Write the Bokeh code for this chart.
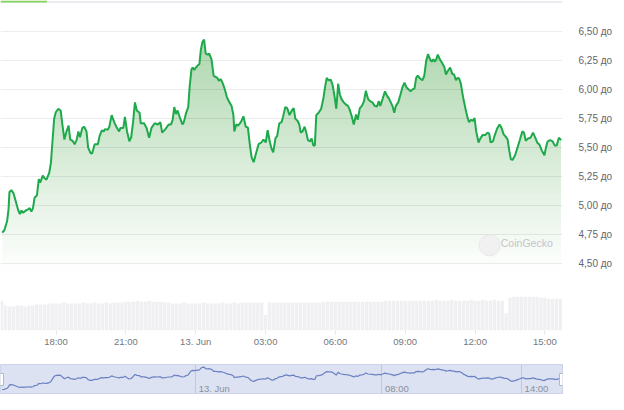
import numpy as np
from bokeh.plotting import figure
from bokeh.models import Range1d, FixedTicker, BoxAnnotation, Span, Label, Grid
from bokeh.layouts import column
from bokeh.embed import file_html
from bokeh.resources import INLINE
from bokeh.core.properties import value

# ---- data (hours since 00:00 on 12 Jun; price) ----
times = [15.69, 15.78, 15.90, 15.96, 16.00, 16.08, 16.17, 16.27, 16.38, 16.45,
         16.52, 16.59, 16.70, 16.80, 16.87, 16.94, 17.01, 17.08, 17.18, 17.26,
         17.32, 17.43, 17.50, 17.59, 17.71, 17.78, 17.85, 17.92, 17.99, 18.10,
         18.20, 18.26, 18.36, 18.45, 18.54, 18.61, 18.71, 18.80, 18.89, 18.96,
         19.03, 19.13, 19.21, 19.31, 19.38, 19.48, 19.55, 19.66, 19.80, 19.87,
         19.97, 20.05, 20.10, 20.22, 20.29, 20.39, 20.50, 20.59, 20.71, 20.77,
         20.89, 20.96, 21.05, 21.15, 21.23, 21.31, 21.39, 21.47, 21.59, 21.64,
         21.78, 21.89, 22.00, 22.10, 22.24, 22.38, 22.48, 22.56, 22.70, 22.84,
         22.94, 23.01, 23.08, 23.15, 23.22, 23.31, 23.43, 23.49, 23.59, 23.68,
         23.74, 23.82, 23.87, 23.94, 24.01, 24.10, 24.16, 24.22, 24.29, 24.36,
         24.43, 24.51, 24.58, 24.68, 24.77, 24.85, 24.93, 25.00, 25.07, 25.14,
         25.24, 25.35, 25.45, 25.54, 25.62, 25.66, 25.74, 25.82, 25.94, 26.05,
         26.15, 26.24, 26.33, 26.40, 26.49, 26.59, 26.70, 26.82, 26.91, 27.01,
         27.09, 27.19, 27.26, 27.33, 27.43, 27.50, 27.59, 27.69, 27.75, 27.85,
         27.93, 28.03, 28.13, 28.21, 28.28, 28.38, 28.45, 28.51, 28.59, 28.68,
         28.75, 28.82, 28.91, 28.98, 29.05, 29.12, 29.18, 29.28, 29.39, 29.49,
         29.56, 29.63, 29.70, 29.80, 29.88, 29.95, 30.04, 30.12, 30.19, 30.26,
         30.36, 30.46, 30.54, 30.61, 30.71, 30.79, 30.89, 30.96, 31.05, 31.14,
         31.23, 31.31, 31.40, 31.49, 31.59, 31.69, 31.79, 31.86, 31.93, 32.03,
         32.13, 32.21, 32.31, 32.38, 32.46, 32.53, 32.60, 32.70, 32.80, 32.88,
         32.97, 33.05, 33.15, 33.23, 33.30, 33.40, 33.47, 33.54, 33.64, 33.74,
         33.82, 33.90, 33.98, 34.07, 34.14, 34.21, 34.28, 34.33, 34.40, 34.49,
         34.58, 34.68, 34.75, 34.83, 34.93, 35.02, 35.10, 35.18, 35.25, 35.32,
         35.39, 35.49, 35.59, 35.67, 35.74, 35.84, 35.91, 35.98, 36.05, 36.15,
         36.23, 36.33, 36.44, 36.54, 36.61, 36.67, 36.77, 36.86, 36.95, 37.05,
         37.13, 37.23, 37.30, 37.40, 37.47, 37.54, 37.61, 37.72, 37.83, 37.93,
         38.03, 38.10, 38.18, 38.28, 38.38, 38.49, 38.59, 38.67, 38.77, 38.87,
         38.98, 39.05, 39.12, 39.23, 39.33, 39.42, 39.51, 39.60, 39.70]

prices = [4.77, 4.79, 4.87, 4.97, 5.12, 5.135, 5.11, 5.04, 4.96, 4.93,
          4.96, 4.94, 4.96, 4.97, 4.98, 4.95, 4.98, 5.07, 5.09, 5.23,
          5.20, 5.26, 5.24, 5.225, 5.285, 5.37, 5.56, 5.75, 5.805, 5.835,
          5.82, 5.72, 5.57, 5.64, 5.69, 5.57, 5.56, 5.53, 5.57, 5.64,
          5.59, 5.67, 5.68, 5.64, 5.50, 5.455, 5.45, 5.53, 5.53, 5.60,
          5.65, 5.64, 5.66, 5.655, 5.68, 5.78, 5.72, 5.68, 5.64, 5.67,
          5.67, 5.765, 5.64, 5.555, 5.59, 5.72, 5.89, 5.82, 5.80, 5.71,
          5.71, 5.67, 5.585, 5.67, 5.71, 5.70, 5.72, 5.63, 5.66, 5.70,
          5.70, 5.74, 5.85, 5.79, 5.82, 5.765, 5.70, 5.72, 5.80, 5.85,
          6.025, 6.175, 6.19, 6.17, 6.19, 6.21, 6.22, 6.34, 6.41, 6.43,
          6.31, 6.30, 6.31, 6.26, 6.12, 6.11, 6.10, 6.075, 6.09, 6.065,
          6.01, 5.93, 5.89, 5.86, 5.78, 5.64, 5.70, 5.69, 5.72, 5.77,
          5.68, 5.675, 5.52, 5.42, 5.375, 5.45, 5.53, 5.545, 5.57, 5.545,
          5.65, 5.545, 5.49, 5.46, 5.585, 5.60, 5.71, 5.72, 5.765, 5.85,
          5.84, 5.78, 5.82, 5.84, 5.75, 5.73, 5.70, 5.63, 5.64, 5.68,
          5.63, 5.565, 5.555, 5.58, 5.52, 5.52, 5.78, 5.80, 5.835, 5.93,
          6.025, 6.10, 6.08, 6.085, 6.04, 5.96, 5.835, 6.05, 5.96, 5.92,
          5.89, 5.87, 5.86, 5.83, 5.765, 5.70, 5.785, 5.74, 5.84, 5.86,
          5.90, 5.99, 5.92, 5.90, 5.89, 5.86, 5.855, 5.90, 5.86, 5.92,
          5.985, 5.95, 5.92, 5.89, 5.855, 5.80, 5.86, 5.89, 5.96, 6.02,
          6.06, 6.02, 6.00, 5.985, 6.00, 6.01, 6.10, 6.12, 6.095, 6.08,
          6.12, 6.245, 6.305, 6.26, 6.24, 6.26, 6.24, 6.26, 6.30, 6.26,
          6.23, 6.195, 6.13, 6.16, 6.19, 6.135, 6.13, 6.08, 6.10, 6.095,
          6.05, 5.93, 5.835, 5.765, 5.72, 5.74, 5.73, 5.755, 5.64, 5.545,
          5.58, 5.61, 5.61, 5.63, 5.62, 5.545, 5.555, 5.615, 5.665, 5.70,
          5.675, 5.615, 5.60, 5.57, 5.475, 5.40, 5.395, 5.435, 5.505, 5.57,
          5.64, 5.63, 5.56, 5.58, 5.585, 5.63, 5.585, 5.545, 5.525, 5.475,
          5.435, 5.505, 5.555, 5.565, 5.555, 5.52, 5.52, 5.585, 5.565]

# volume every 10 minutes from 15:40 (relative units)
vol_start = 15 + 40 / 60
vol_step = 1 / 6
vol_values = [31, 26, 25, 25, 26, 26, 25, 26, 26, 27,
              27, 27, 28, 28, 28, 28, 29, 28, 28, 28,
              28, 29, 28, 28, 29, 28, 28, 29, 28, 29,
              29, 29, 30, 30, 30, 31, 30, 30, 31, 30,
              30, 30, 29, 29, 28, 28, 28, 29, 28, 28,
              28, 28, 29, 28, 28, 28, 28, 29, 28, 28,
              29, 28, 29, 29, 29, 29, 29, 29, 16, 29,
              29, 29, 29, 29, 29, 29, 29, 29, 29, 29,
              29, 29, 29, 30, 30, 30, 30, 30, 30, 30,
              30, 30, 30, 30, 30, 30, 30, 30, 30, 31,
              31, 31, 31, 31, 31, 31, 31, 31, 31, 31,
              31, 31, 32, 31, 31, 31, 32, 31, 31, 31,
              31, 32, 31, 31, 32, 31, 31, 32, 31, 31,
              18, 34, 35, 35, 35, 35, 35, 35, 35, 34,
              34, 33, 33, 33, 33]
vol_times = [vol_start + i * vol_step for i in range(len(vol_values))]

x_tick_hours = [18, 21, 24, 27, 30, 33, 36, 39]
x_tick_labels = ["18:00", "21:00", "13. Jun", "03:00", "06:00", "09:00", "12:00", "15:00"]
y_ticks = [4.5, 4.75, 5.0, 5.25, 5.5, 5.75, 6.0, 6.25, 6.5]
y_tick_labels = ["4,50 до", "4,75 до", "5,00 до", "5,25 до", "5,50 до",
                 "5,75 до", "6,00 до", "6,25 до", "6,50 до"]
nav_ticks = [24, 32, 38]
nav_labels = ["13. Jun", "08:00", "14:00"]

FONT = "Liberation Sans"
X_START, X_END = 15.615, 39.757
Y_LO, Y_HI = 3.928, 6.766
NAV_LO, NAV_HI = 4.41, 6.62

xr = Range1d(X_START, X_END)

p = figure(frame_width=562, frame_height=330, x_range=xr, y_range=Range1d(Y_LO, Y_HI),
           output_backend="svg", toolbar_location=None, y_axis_location="right",
           min_border_left=0, min_border_top=0, min_border_right=46, min_border_bottom=34,
           background_fill_color="white", border_fill_color="white", outline_line_color=None)

# y axis
p.yaxis.ticker = FixedTicker(ticks=y_ticks)
p.yaxis.major_label_overrides = {t: l for t, l in zip(y_ticks, y_tick_labels)}
p.yaxis.axis_line_color = None
p.yaxis.major_tick_line_color = None
p.yaxis.minor_tick_line_color = None
p.yaxis.major_label_standoff = 10
p.yaxis.major_label_text_font = FONT
p.yaxis.major_label_text_font_size = "10px"
p.yaxis.major_label_text_color = "#62666e"
p.ygrid.grid_line_color = "#ededf0"

# x axis
p.xaxis.ticker = FixedTicker(ticks=x_tick_hours)
p.xaxis.major_label_overrides = {t: l for t, l in zip(x_tick_hours, x_tick_labels)}
p.xaxis.axis_line_color = None
p.xaxis.major_tick_line_color = "#e6e6ea"
p.xaxis.major_tick_out = 4
p.xaxis.major_tick_in = 0
p.xaxis.minor_tick_line_color = None
p.xaxis.major_label_standoff = 1
p.xaxis.major_label_text_font = FONT
p.xaxis.major_label_text_font_size = "9.5px"
p.xaxis.major_label_text_color = "#74777e"
p.xgrid.visible = False

# gradient area under the line (stacked translucent bands)
pr = np.array(prices)
for lvl in np.arange(4.45, 6.46, 0.05):
    p.varea(x=times, y1=np.minimum(lvl, pr), y2=pr, fill_color="#34b83a", fill_alpha=0.0075)

# volume bars
p.extra_y_ranges = {"vol": Range1d(0, 343)}
p.vbar(x=vol_times, top=vol_values, width=0.145, y_range_name="vol",
       fill_color="#f0f0f3", line_color=None)

# price line
p.line(times, prices, line_color="#1ea94b", line_width=2)

# watermark
p.scatter(x=[X_END - 3.13], y=[4.66], size=21, marker="circle",
          fill_color="#f1f1f1", line_color="#e8e8e8")
p.add_layout(Label(x=X_END - 0.42, y=4.677, text="CoinGecko", text_align="right",
                   text_baseline="middle", text_font=FONT, text_font_size="10.5px",
                   text_color="#c4c4c8"))

# top UI line
p.add_layout(Span(location=Y_HI - 0.012, dimension="width", line_color="#ececf0", line_width=2))
p.add_layout(BoxAnnotation(left=X_START, right=X_START + 2.0, top=Y_HI, bottom=Y_HI - 0.018,
                           fill_color="#86d35a", fill_alpha=1, line_color=None))

# navigator
nav = figure(frame_width=562, frame_height=30, x_range=xr, y_range=Range1d(NAV_LO, NAV_HI),
             output_backend="svg", toolbar_location=None, x_axis_type=None, y_axis_type=None,
             min_border_left=0, min_border_right=46, min_border_top=0, min_border_bottom=0,
             background_fill_color="#dce2f1", border_fill_color="white",
             outline_line_color="#cdd4e8")
nav.add_layout(Grid(dimension=0, ticker=FixedTicker(ticks=nav_ticks), grid_line_color="#c0c8de"))
nav.line(times, prices, line_color="#6a80c3", line_width=1.2)
nav.text(x=nav_ticks, y=[NAV_LO] * len(nav_ticks), text=nav_labels,
         text_font=value(FONT), text_font_size="9.5px", text_color="#8b909c",
         x_offset=3, y_offset=-1, text_baseline="bottom", text_align="left")
nav.rect(x=[X_START, X_END], y=[(NAV_LO + NAV_HI) / 2] * 2, width=6, height=12,
         width_units="screen", height_units="screen", fill_color="white", line_color="#b5b8c2")

layout = column(p, nav, spacing=0)
open("out.html", "w").write(file_html(layout, INLINE))
